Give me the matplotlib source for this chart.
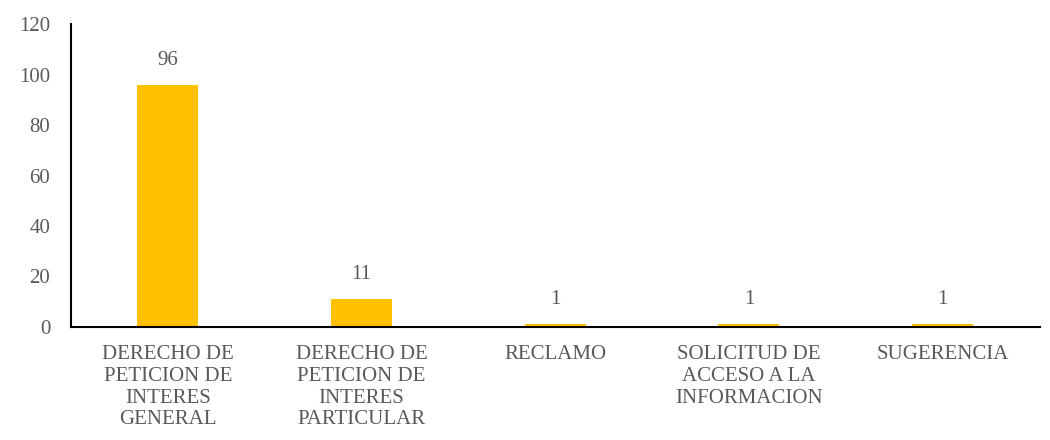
import matplotlib
matplotlib.use("Agg")
import matplotlib.pyplot as plt

# Datos
categorias = ["DERECHO DE\nPETICION DE\nINTERES\nGENERAL",
              "DERECHO DE\nPETICION DE\nINTERES\nPARTICULAR",
              "RECLAMO",
              "SOLICITUD DE\nACCESO A LA\nINFORMACION",
              "SUGERENCIA"]
valores = [96, 11, 1, 1, 1]
yticks = [0, 20, 40, 60, 80, 100, 120]

gris = "#595959"
plt.rcParams["font.family"] = ["Liberation Serif", "DejaVu Serif"]

fig = plt.figure(figsize=(10.5, 4.4), dpi=100)
ax = fig.add_axes([0.0676, 0.257, 0.9224, 0.688])

x = range(len(categorias))
barras = ax.bar(x, valores, width=0.315, color="#FFC000")

for xi, v in zip(x, valores):
    ax.text(xi, v + 6, str(v), ha="center", va="bottom", fontsize=15, color=gris)

ax.set_xlim(-0.5, len(categorias) - 0.5)
ax.set_ylim(0, 120)
ax.set_yticks(yticks)
ax.set_xticks(list(x))
ax.set_xticklabels(categorias, fontsize=15, color=gris, linespacing=1.2)
ax.tick_params(axis="y", labelsize=15, labelcolor=gris, length=0, pad=15)
ax.tick_params(axis="x", length=0, pad=13)

for lado in ["top", "right"]:
    ax.spines[lado].set_visible(False)
ax.spines["left"].set_linewidth(1.5)
ax.spines["bottom"].set_linewidth(1.5)

fig.savefig("out.png", dpi=100)
